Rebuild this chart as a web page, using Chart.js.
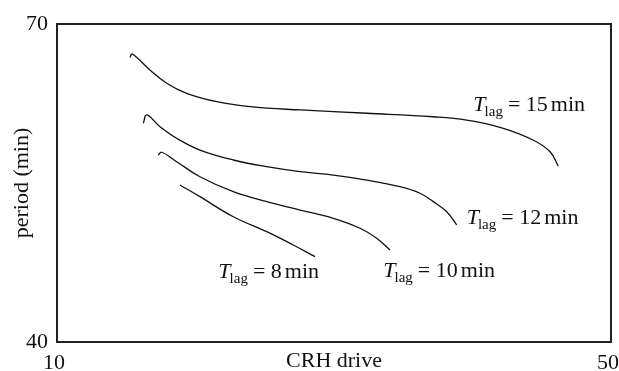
<!DOCTYPE html>
<html>
<head>
<meta charset="utf-8">
<script src="https://cdn.jsdelivr.net/npm/chart.js@4/dist/chart.umd.min.js"></script>
<style>
  html, body { margin: 0; padding: 0; background: #fff; }
  #wrap { width: 619px; height: 371px; }
</style>
</head>
<body>
<div id="wrap"><canvas id="periodChart"></canvas></div>
<script>
// curves: CRH drive (x) vs period in min (y)
const lag15X = [15.27, 15.44, 16.71, 17.92, 19.36, 21.53, 23.94, 27.55, 32.36, 37.15, 39.58, 41.99, 44.37, 45.60, 46.19];
const lag15Y = [66.86, 67.17, 65.66, 64.41, 63.46, 62.67, 62.20, 61.89, 61.58, 61.25, 60.94, 60.25, 59.06, 57.95, 56.60];

const lag12X = [16.23, 16.48, 17.44, 18.64, 20.32, 22.73, 25.14, 27.55, 29.96, 32.36, 34.77, 36.21, 37.17, 38.14, 38.86];
const lag12Y = [60.63, 61.42, 60.31, 59.22, 58.11, 57.17, 56.54, 56.07, 55.75, 55.28, 54.65, 54.03, 53.24, 52.29, 51.04];

const lag10X = [17.31, 17.56, 18.64, 20.32, 22.73, 25.14, 27.55, 29.95, 31.88, 33.08, 34.04];
const lag10Y = [57.64, 57.90, 57.01, 55.59, 54.18, 53.24, 52.45, 51.67, 50.73, 49.78, 48.68];

const lag8X = [18.88, 20.32, 22.73, 25.14, 27.06, 28.63];
const lag8Y = [54.81, 53.71, 51.82, 50.41, 49.15, 48.05];

// curve labels: minutes and where each label starts (data units)
const lagMinutes = [15, 12, 10, 8];
const lagLabelX = [40.06, 39.58, 33.56, 21.65];
const lagLabelY = [61.79, 51.13, 46.13, 46.04];

const xTicks = [10, 50];
const yTicks = [40, 70];

const serif = '"Liberation Serif", Times, serif';

function pts(xs, ys) {
    return xs.map((x, i) => ({ x: x, y: ys[i] }));
}

function curve(label, xs, ys) {
    return {
        label: label,
        data: pts(xs, ys),
        borderColor: '#111',
        borderWidth: 1.3,
        pointRadius: 0,
        fill: false,
        tension: 0.4
    };
}

// frame round the plot and the T_lag labels
const framePlugin = {
    id: 'frameAndLabels',
    afterDraw(chart) {
        const ctx = chart.ctx;
        const a = chart.chartArea;
        const xs = chart.scales.x;
        const ys = chart.scales.y;
        ctx.save();
        ctx.strokeStyle = '#222';
        ctx.lineWidth = 2;
        ctx.strokeRect(a.left, a.top, a.right - a.left, a.bottom - a.top);

        ctx.fillStyle = '#111';
        ctx.textBaseline = 'alphabetic';
        ctx.textAlign = 'left';
        lagMinutes.forEach((m, i) => {
            let px = xs.getPixelForValue(lagLabelX[i]);
            const py = ys.getPixelForValue(lagLabelY[i]);
            ctx.font = 'italic 22px ' + serif;
            ctx.fillText('T', px, py);
            px += ctx.measureText('T').width - 1;
            ctx.font = '15px ' + serif;
            ctx.fillText('lag', px, py + 5);
            px += ctx.measureText('lag').width + 5;
            ctx.font = '22px ' + serif;
            ctx.fillText('= ' + m, px, py);
            px += ctx.measureText('= ' + m).width + 3;
            ctx.fillText('min', px, py);
        });
        ctx.restore();
    }
};

new Chart(document.getElementById('periodChart').getContext('2d'), {
    type: 'line',
    data: {
        datasets: [
            curve('T_lag = 15 min', lag15X, lag15Y),
            curve('T_lag = 12 min', lag12X, lag12Y),
            curve('T_lag = 10 min', lag10X, lag10Y),
            curve('T_lag = 8 min', lag8X, lag8Y)
        ]
    },
    options: {
        responsive: true,
        maintainAspectRatio: false,
        animation: false,
        layout: { padding: { top: 24, right: 0, bottom: 0, left: 0 } },
        plugins: {
            legend: { display: false },
            tooltip: { enabled: false }
        },
        scales: {
            x: {
                type: 'linear',
                min: xTicks[0],
                max: xTicks[1],
                grid: { display: false, drawTicks: false },
                border: { display: false },
                afterBuildTicks: s => { s.ticks = xTicks.map(v => ({ value: v })); },
                afterFit: s => { s.height = 29; s.paddingRight = 8; s.paddingLeft = 0; },
                ticks: {
                    color: '#111',
                    padding: 8,
                    labelOffset: -3,
                    maxRotation: 0,
                    font: { family: serif, size: 22 }
                },
                title: {
                    display: true,
                    text: 'CRH drive',
                    color: '#111',
                    font: { family: serif, size: 22 },
                    padding: { top: 0, bottom: -3 }
                }
            },
            y: {
                type: 'linear',
                min: yTicks[0],
                max: yTicks[1],
                grid: { display: false, drawTicks: false },
                border: { display: false },
                afterBuildTicks: s => { s.ticks = yTicks.map(v => ({ value: v })); },
                afterFit: s => { s.width = 57; },
                ticks: {
                    color: '#111',
                    padding: 9,
                    font: { family: serif, size: 22 }
                },
                title: {
                    display: true,
                    text: 'period (min)',
                    color: '#111',
                    font: { family: serif, size: 22 },
                    padding: { top: 9, bottom: 0 }
                }
            }
        }
    },
    plugins: [framePlugin]
});
</script>
</body>
</html>
